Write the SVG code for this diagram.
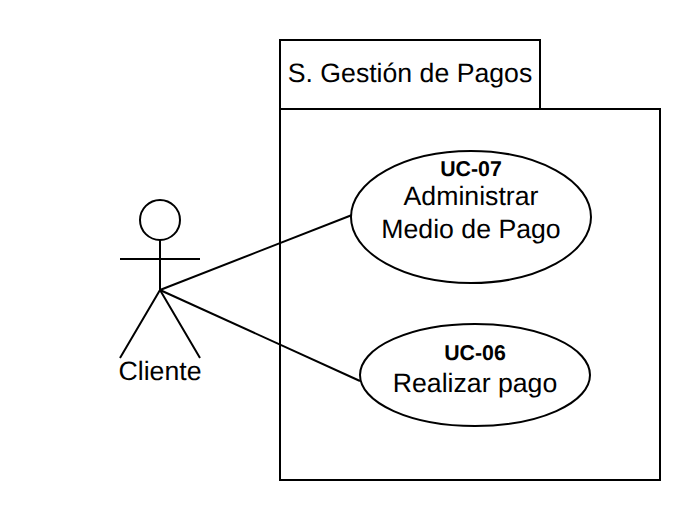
<svg xmlns="http://www.w3.org/2000/svg" width="700" height="520" viewBox="0 0 700 520">
<style>
.s{fill:#fff;stroke:#000;stroke-width:2}
.l{fill:none;stroke:#000;stroke-width:2}
text{font-family:"Liberation Sans",Arial,sans-serif;fill:#000;text-anchor:middle;text-rendering:geometricPrecision}
.t{font-size:26.67px}
.b{font-size:21.33px;font-weight:bold}
</style>
<rect width="700" height="520" fill="#fff"/>
<g id="system">
<rect class="s" x="280" y="40" width="260" height="69"/>
<rect class="s" x="280" y="109" width="380" height="371"/>
<text class="t" x="410" y="82">S. Gestión de Pagos</text>
</g>
<g id="connectors">
<line class="l" x1="160" y1="290" x2="352" y2="215"/>
<line class="l" x1="160" y1="290" x2="360" y2="381"/>
</g>
<g id="uc07">
<ellipse class="s" cx="471" cy="217" rx="120" ry="66"/>
<text class="b" x="471" y="176">UC-07</text>
<text class="t" x="471" y="205">Administrar</text>
<text class="t" x="471" y="238">Medio de Pago</text>
</g>
<g id="uc06">
<ellipse class="s" cx="475" cy="375" rx="115" ry="51"/>
<text class="b" x="475" y="360">UC-06</text>
<text class="t" x="475" y="392">Realizar pago</text>
</g>
<g id="actor">
<circle class="s" cx="160" cy="220" r="20"/>
<path class="l" d="M160 240V290M120 259H200M160 290L120 358M160 290L200 358"/>
<text class="t" x="160" y="380">Cliente</text>
</g>
</svg>
